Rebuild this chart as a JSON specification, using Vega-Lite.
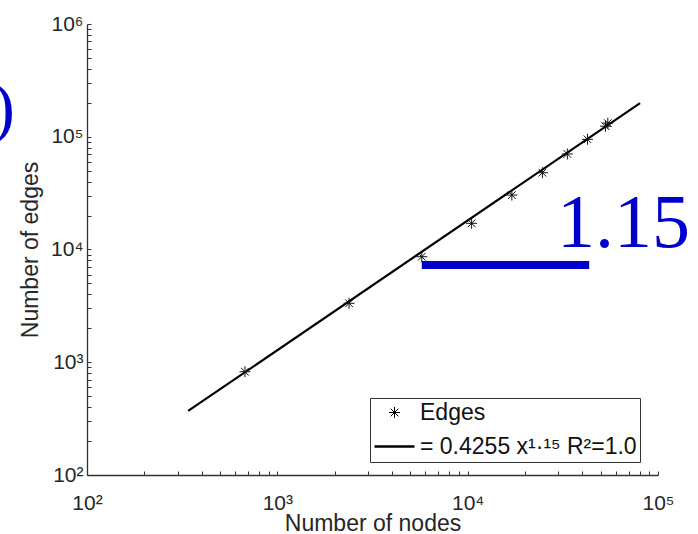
{
  "$schema": "https://vega.github.io/schema/vega-lite/v6.json",
  "width": 571,
  "height": 451,
  "autosize": {"type": "none"},
  "padding": {"left": 87, "top": 24, "right": 40, "bottom": 59},
  "background": "white",
  "config": {
    "view": {"stroke": null},
    "font": "Liberation Sans",
    "axis": {
      "grid": false,
      "domainColor": "#333333",
      "domainWidth": 1.3,
      "tickColor": "#333333",
      "tickWidth": 1,
      "tickSize": -4,
      "labelFont": "Liberation Sans",
      "labelFontSize": 21,
      "labelColor": "#262626",
      "labelOverlap": false,
      "labelFlush": false,
      "titleFont": "Liberation Sans",
      "titleFontSize": 23,
      "titleFontWeight": "normal",
      "titleColor": "#262626"
    },
    "legend": {
      "orient": "none",
      "legendX": 283,
      "legendY": 374,
      "strokeColor": "#333333",
      "fillColor": "white",
      "padding": 3,
      "labelFont": "Liberation Sans",
      "labelFontSize": 23,
      "labelColor": "#111111",
      "labelLimit": 0,
      "symbolStrokeColor": "black",
      "symbolFillColor": "transparent",
      "rowPadding": 0,
      "labelOffset": 4
    }
  },
  "datasets": {
    "edges": [
      {"nodes": 676, "edges": 824, "series": "Edges"},
      {"nodes": 2382, "edges": 3333, "series": "Edges"},
      {"nodes": 5740, "edges": 8630, "series": "Edges"},
      {"nodes": 10490, "edges": 17070, "series": "Edges"},
      {"nodes": 17070, "edges": 30400, "series": "Edges"},
      {"nodes": 24700, "edges": 48000, "series": "Edges"},
      {"nodes": 33400, "edges": 70300, "series": "Edges"},
      {"nodes": 42600, "edges": 94900, "series": "Edges"},
      {"nodes": 53000, "edges": 124000, "series": "Edges"},
      {"nodes": 54500, "edges": 132000, "series": "Edges"}
    ],
    "fit": [
      {"nodes": 340, "edges": 370},
      {"nodes": 80500, "edges": 199000}
    ],
    "slope": [
      {"nodes": 5740, "nodes2": 43500, "edges": 7280}
    ],
    "slopeLabel": [
      {"nodes": 29500, "edges": 10500, "label": "1.15"}
    ],
    "paren": [
      {"nodes": 41.8, "edges": 114800, "label": ")"}
    ]
  },
  "layer": [
    {
      "data": {"name": "fit"},
      "mark": {"type": "line", "color": "black", "strokeWidth": 2.2},
      "encoding": {
        "x": {
          "field": "nodes", "type": "quantitative",
          "scale": {"type": "log", "domain": [100, 100000], "nice": false},
          "axis": {
            "title": "Number of nodes",
            "titleY": 55,
            "titleBaseline": "alphabetic",
            "labelPadding": 21,
            "values": [100,200,300,400,500,600,700,800,900,1000,2000,3000,4000,5000,6000,7000,8000,9000,10000,20000,30000,40000,50000,60000,70000,80000,90000,100000],
            "labelExpr": "abs(log(datum.value)/LN10 - round(log(datum.value)/LN10)) < 1e-6 ? '10' + ['⁰','¹','²','³','⁴','⁵','⁶'][round(log(datum.value)/LN10)] : ''"
          }
        },
        "y": {
          "field": "edges", "type": "quantitative",
          "scale": {"type": "log", "domain": [100, 1000000], "nice": false},
          "axis": {
            "title": "Number of edges",
            "titleX": -50,
            "titleBaseline": "alphabetic",
            "labelPadding": 8,
            "values": [100,200,300,400,500,600,700,800,900,1000,2000,3000,4000,5000,6000,7000,8000,9000,10000,20000,30000,40000,50000,60000,70000,80000,90000,100000,200000,300000,400000,500000,600000,700000,800000,900000,1000000],
            "labelExpr": "abs(log(datum.value)/LN10 - round(log(datum.value)/LN10)) < 1e-6 ? '10' + ['⁰','¹','²','³','⁴','⁵','⁶'][round(log(datum.value)/LN10)] : ''"
          }
        }
      }
    },
    {
      "data": {"name": "edges"},
      "mark": {"type": "point", "filled": false, "color": "#111111", "opacity": 1},
      "encoding": {
        "x": {"field": "nodes", "type": "quantitative"},
        "y": {"field": "edges", "type": "quantitative"},
        "shape": {
          "field": "series", "type": "nominal",
          "scale": {"domain": ["Edges", "= 0.4255 x¹·¹⁵ R²=1.0"], "range": ["M0,-1L0,1M-1,0L1,0M-0.7,-0.7L0.7,0.7M-0.7,0.7L0.7,-0.7", "stroke"]},
          "legend": {"title": null}
        },
        "size": {
          "field": "series", "type": "nominal",
          "scale": {"domain": ["Edges", "= 0.4255 x¹·¹⁵ R²=1.0"], "range": [120, 1600]},
          "legend": {"title": null}
        },
        "strokeWidth": {
          "field": "series", "type": "nominal",
          "scale": {"domain": ["Edges", "= 0.4255 x¹·¹⁵ R²=1.0"], "range": [1, 2.5]},
          "legend": {"title": null}
        }
      }
    },
    {
      "data": {"name": "slope"},
      "mark": {"type": "rule", "color": "#0000CC", "strokeWidth": 8, "strokeCap": "butt"},
      "encoding": {
        "x": {"field": "nodes", "type": "quantitative"},
        "x2": {"field": "nodes2"},
        "y": {"field": "edges", "type": "quantitative"}
      }
    },
    {
      "data": {"name": "slopeLabel"},
      "mark": {"type": "text", "font": "Liberation Serif", "fontSize": 76, "color": "#0000CC", "align": "left", "baseline": "alphabetic"},
      "encoding": {
        "x": {"field": "nodes", "type": "quantitative"},
        "y": {"field": "edges", "type": "quantitative"},
        "text": {"field": "label"}
      }
    },
    {
      "data": {"name": "paren"},
      "mark": {"type": "text", "font": "Liberation Serif", "fontSize": 68, "color": "#0000CC", "align": "right", "baseline": "alphabetic"},
      "encoding": {
        "x": {"field": "nodes", "type": "quantitative"},
        "y": {"field": "edges", "type": "quantitative"},
        "text": {"field": "label"}
      }
    }
  ]
}
